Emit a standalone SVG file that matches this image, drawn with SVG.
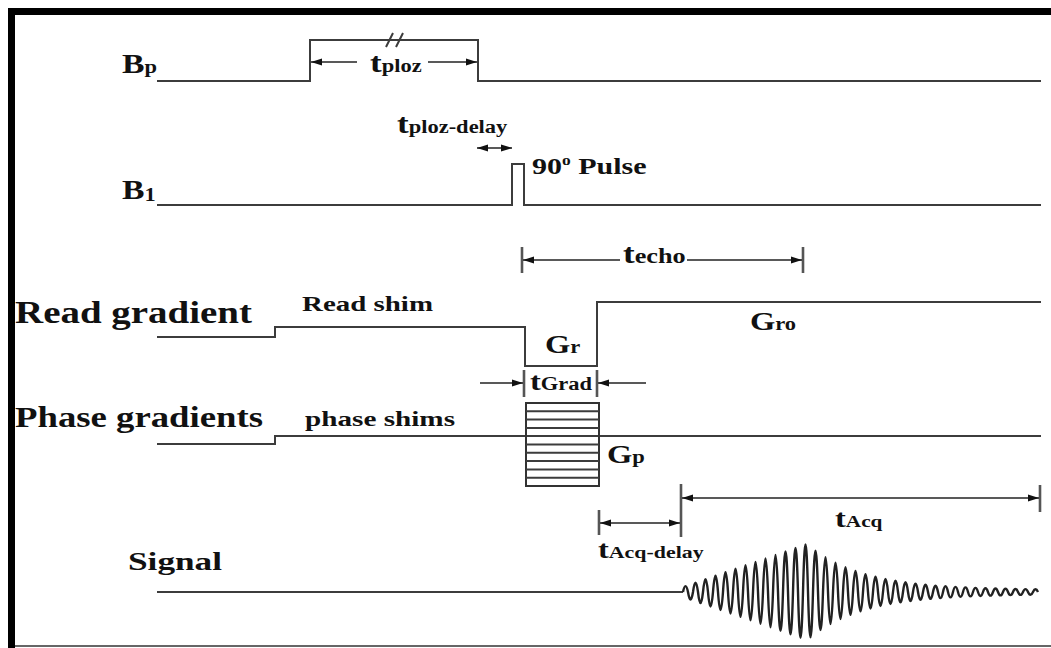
<svg xmlns="http://www.w3.org/2000/svg" width="1051" height="648" viewBox="0 0 1051 648">
<style>
.w{fill:none;stroke:#3c3c3c;stroke-width:2;stroke-linejoin:miter}
.tk{fill:none;stroke:#555;stroke-width:2.6}
.ar{fill:none;stroke:#222;stroke-width:1.6}
.t{font-family:"Liberation Serif","Times New Roman",serif;font-weight:bold;fill:#111}
.sig{fill:none;stroke:#222;stroke-width:2.4;stroke-linejoin:round}
</style>
<defs>
<marker id="ah" markerUnits="userSpaceOnUse" markerWidth="12" markerHeight="8" refX="11" refY="4" orient="auto-start-reverse"><path d="M0,0.5 L11,4 L0,7.5 z" fill="#111"/></marker>
</defs>
<rect width="1051" height="648" fill="#fff"/>
<g id="frame">
<rect x="8" y="8" width="1043" height="7" fill="#000"/>
<rect x="8" y="8" width="7" height="640" fill="#000"/>
<line x1="15" y1="646" x2="1051" y2="646" stroke="#333" stroke-width="1.5"/>
</g>
<g id="bp">
<text class="t" transform="translate(122 73) scale(1.25 1)"><tspan font-size="27">B</tspan><tspan font-size="18">p</tspan></text>
<path class="w" d="M157,81 H310 V40 H478 V81 H1041"/>
<path class="w" d="M386,47 L393,33 M396,47 L403,33" stroke-width="1.6"/>
</g>
<g id="b1">
<text class="t" transform="translate(122 199) scale(1.25 1)"><tspan font-size="27">B</tspan><tspan font-size="18" dy="2">1</tspan></text>
<path class="w" d="M157,205 H512 V164 H524 V205 H1041"/>
<text class="t" transform="translate(532 174) scale(1.25 1)"><tspan font-size="24">90</tspan><tspan font-size="14" dy="-9">o</tspan><tspan font-size="24" dy="9"> Pulse</tspan></text>
</g>
<g id="read">
<text class="t" x="15" y="323" font-size="31" textLength="237" lengthAdjust="spacingAndGlyphs">Read gradient</text>
<text class="t" x="302" y="311" font-size="22" textLength="131" lengthAdjust="spacingAndGlyphs">Read shim</text>
<path class="w" d="M157,337 H275 V327 H525 V366 H597 V302 H1041"/>
<text class="t" transform="translate(545 353) scale(1.25 1)"><tspan font-size="26">G</tspan><tspan font-size="18">r</tspan></text>
<text class="t" transform="translate(750 330) scale(1.25 1)"><tspan font-size="26">G</tspan><tspan font-size="18">ro</tspan></text>
</g>
<g id="phase">
<text class="t" x="15" y="427" font-size="30" textLength="248" lengthAdjust="spacingAndGlyphs">Phase gradients</text>
<text class="t" x="305" y="426" font-size="22" textLength="150" lengthAdjust="spacingAndGlyphs">phase shims</text>
<path class="w" d="M157,444 H275 V436 H1041"/>
<rect x="526" y="403" width="73" height="83" fill="none" stroke="#333" stroke-width="2"/>
<path class="w" stroke-width="1.8" d="M526,411.3 H599 M526,419.6 H599 M526,427.9 H599 M526,444.5 H599 M526,452.8 H599 M526,461.1 H599 M526,469.4 H599 M526,477.7 H599"/>
<text class="t" transform="translate(607 463) scale(1.25 1)"><tspan font-size="26">G</tspan><tspan font-size="18">p</tspan></text>
</g>
<g id="signal">
<text class="t" x="128" y="570" font-size="26" textLength="94" lengthAdjust="spacingAndGlyphs">Signal</text>
<path class="w" d="M157,592 H683"/>
<path class="sig" d="M683,592 q2.5,-11.8 5,0 q2.5,15.2 5,0 q2.5,-18.6 5,0 q2.5,22.2 5,0 q2.5,-25.6 5,0 q2.5,29 5,0 q2.5,-32.6 5,0 q2.5,36 5,0 q2.5,-39.4 5,0 q2.5,43 5,0 q2.5,-46.4 5,0 q2.5,49.8 5,0 q2.5,-53.4 5,0 q2.5,56.8 5,0 q2.5,-60.2 5,0 q2.5,63.8 5,0 q2.5,-67.2 5,0 q2.5,70.6 5,0 q2.5,-74.2 5,0 q2.5,77.6 5,0 q2.5,-81 5,0 q2.5,84.6 5,0 q2.5,-88 5,0 q2.5,91.4 5,0 q2.5,-95 5,0 q2.5,90.4 5,0 q2.5,-82.8 5,0 q2.5,76 5,0 q2.5,-69.8 5,0 q2.5,64 5,0 q2.5,-58.8 5,0 q2.5,54 5,0 q2.5,-49.8 5,0 q2.5,45.8 5,0 q2.5,-42 5,0 q2.5,38.8 5,0 q2.5,-35.8 5,0 q2.5,33 5,0 q2.5,-30.4 5,0 q2.5,28.2 5,0 q2.5,-26 5,0 q2.5,24.2 5,0 q2.5,-22.4 5,0 q2.5,20.8 5,0 q2.5,-19.4 5,0 q2.5,18 5,0 q2.5,-16.8 5,0 q2.5,15.6 5,0 q2.5,-14.6 5,0 q2.5,13.8 5,0 q2.5,-12.8 5,0 q2.5,12.2 5,0 q2.5,-11.4 5,0 q2.5,10.8 5,0 q2.5,-10.2 5,0 q2.5,9.6 5,0 q2.5,-9.2 5,0 q2.5,8.8 5,0 q2.5,-8.2 5,0 q2.5,8 5,0 q2.5,-7.6 5,0 q2.5,7.2 5,0 q2.5,-7 5,0 q2.5,6.8 5,0 q2.5,-6.4 5,0 q2.5,6.2 5,0 q2.5,-6 5,0 q2.5,5.8 5,0 q2.5,-5.8 5,0 q2.5,5.6 5,0 q2.5,-5.4 5,0"/>
</g>
<g id="connectors">
<line class="ar" x1="357" y1="62" x2="311" y2="62" marker-end="url(#ah)"/>
<line class="ar" x1="428" y1="62" x2="477" y2="62" marker-end="url(#ah)"/>
<line class="ar" x1="477" y1="148" x2="512" y2="148" marker-start="url(#ah)" marker-end="url(#ah)"/>
<path class="tk" d="M522,247 V273 M803,247 V273"/>
<line class="ar" x1="620" y1="260" x2="523" y2="260" marker-end="url(#ah)"/>
<line class="ar" x1="687" y1="260" x2="802" y2="260" marker-end="url(#ah)"/>
<path class="tk" d="M524,370 V397 M597,370 V397"/>
<line class="ar" x1="480" y1="383" x2="523" y2="383" marker-end="url(#ah)"/>
<line class="ar" x1="646" y1="383" x2="598" y2="383" marker-end="url(#ah)"/>
<path class="tk" d="M599,510 V535 M681,484 V537 M1040,485 V512"/>
<line class="ar" x1="600" y1="523" x2="680" y2="523" marker-start="url(#ah)" marker-end="url(#ah)"/>
<line class="ar" x1="682" y1="498" x2="1039" y2="498" marker-start="url(#ah)" marker-end="url(#ah)"/>
</g>
<g id="labels">
<text class="t" transform="translate(370 72) scale(1.25 1)"><tspan font-size="28">t</tspan><tspan font-size="18">ploz</tspan></text>
<text class="t" transform="translate(397 133) scale(1.25 1)"><tspan font-size="28">t</tspan><tspan font-size="18">ploz-delay</tspan></text>
<text class="t" transform="translate(623 263) scale(1.25 1)"><tspan font-size="28">t</tspan><tspan font-size="21">echo</tspan></text>
<text class="t" transform="translate(530 390) scale(1.25 1)"><tspan font-size="26">t</tspan><tspan font-size="18">Grad</tspan></text>
<text class="t" transform="translate(835 527) scale(1.25 1)"><tspan font-size="26">t</tspan><tspan font-size="17">Acq</tspan></text>
<text class="t" transform="translate(598 558) scale(1.25 1)"><tspan font-size="26">t</tspan><tspan font-size="17.5">Acq-delay</tspan></text>
</g>
</svg>
